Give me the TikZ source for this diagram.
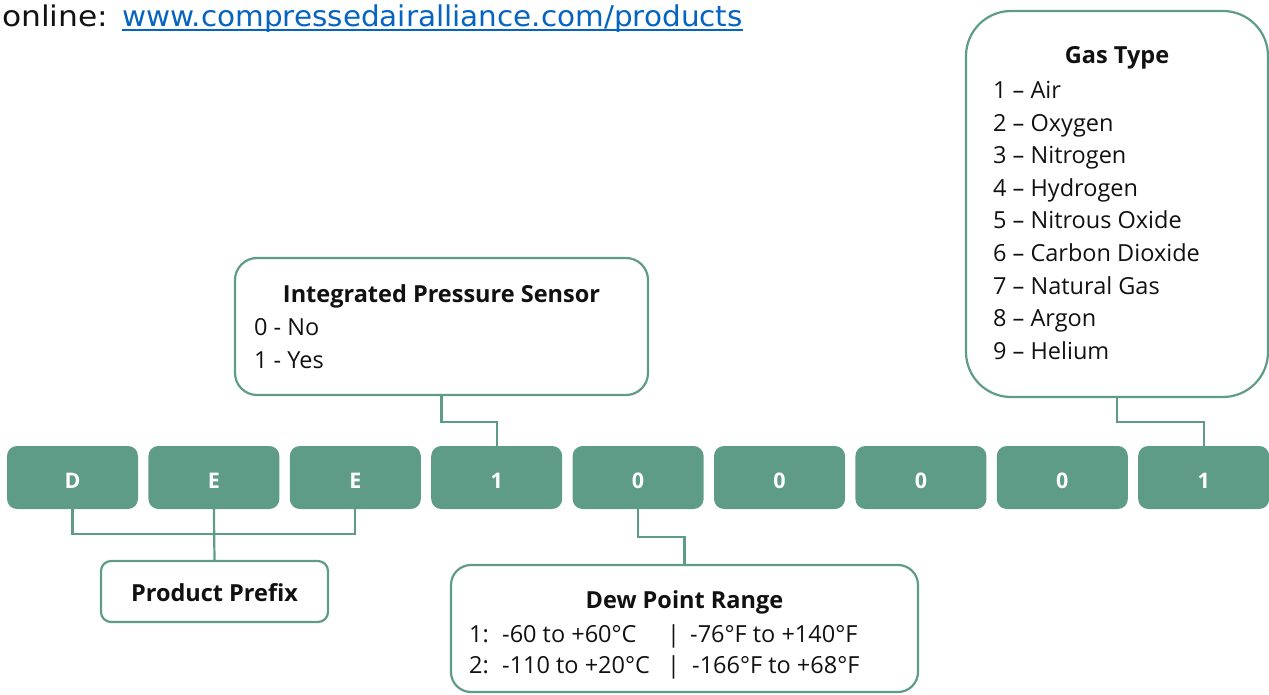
\documentclass[tikz,border=0pt]{standalone}
\usepackage{fontspec}
\setmainfont{Open Sans}
\newfontfamily\topfont[FakeStretch=1.03]{DejaVu Sans}
\newfontfamily\onlinefont[FakeStretch=1.1]{DejaVu Sans}
\definecolor{grn}{HTML}{5F9C88}
\definecolor{lnk}{HTML}{0563C1}
\definecolor{txt}{HTML}{111111}
\tikzset{
  code/.style={fill=grn, draw=none, rounded corners=10pt, minimum width=131pt, minimum height=63pt, inner sep=0pt},
  codetxt/.style={anchor=base, inner sep=0pt, text=white, font=\fontsize{21.5}{25}\selectfont\bfseries},
  infobox/.style={draw=grn, line width=2.2pt, fill=white, inner sep=0pt},
  conn/.style={draw=grn, line width=2.2pt},
  lbl/.style={anchor=base west, inner sep=0pt, text=txt, font=\fontsize{23.5}{28}\selectfont},
  ttl/.style={anchor=base, inner sep=0pt, text=txt, font=\fontsize{23.5}{28}\selectfont\bfseries},
}
\begin{document}
\begin{tikzpicture}[x=1pt,y=-1pt]
\useasboundingbox (0,0) rectangle (1269,695);
% top text
\node[anchor=base west, inner sep=0pt, text=txt, font=\onlinefont\fontsize{28.5}{32}\selectfont] (online) at (2,26.5) {online:};
\node[anchor=base west, inner sep=0pt, text=lnk, font=\topfont\fontsize{28.6}{32}\selectfont] (link) at (122,26.5) {www.compressedairalliance.com/products};
\draw[lnk, line width=2pt] ([yshift=-3.5pt]link.base west) -- ([yshift=-3.5pt]link.base east);
% code boxes
\foreach \i/\t in {1/D,2/E,3/E,4/1,5/0,6/0,7/0,8/0,9/1}{
  \node[code] (c\i) at ({72.5+141.4*(\i-1)},477.5) {};
  \node[codetxt] (t\i) at ({72.5+141.4*(\i-1)},488) {\t};
}
% info boxes
\node[infobox, rounded corners=10pt, minimum width=227pt, minimum height=61pt] (pp) at (214.5,591.5) {};
\node[ttl] (ppt) at (214.5,601) {Product Prefix};

\node[infobox, rounded corners=22pt, minimum width=413pt, minimum height=137pt] (ips) at (441.5,326.5) {};
\node[ttl] (ipst) at (441.5,302) {Integrated Pressure Sensor};
\node[lbl] (ips0) at (254,335) {0 - No};
\node[lbl] (ips1) at (254,368) {1 - Yes};

\node[infobox, rounded corners=45pt, minimum width=302pt, minimum height=386pt] (gas) at (1117,204) {};
\node[ttl] (gast) at (1117,64) {Gas Type};
\foreach \k/\s in {1/Air,2/Oxygen,3/Nitrogen,4/Hydrogen,5/Nitrous Oxide,6/Carbon Dioxide,7/Natural Gas,8/Argon,9/Helium}{
  \node[lbl] (g\k) at (993,{99+32.5*(\k-1)}) {\k\ – \s};
}

\node[infobox, rounded corners=20pt, minimum width=467pt, minimum height=127pt] (dew) at (684.5,628.5) {};
\node[ttl] (dewt) at (684.5,608) {Dew Point Range};
\node[lbl] (d1a) at (469,642) {1:};
\node[lbl] (d1b) at (502,642) {-60 to +60°C};
\node[lbl] (d1c) at (667,642) {|};
\node[lbl] (d1d) at (690,642) {-76°F to +140°F};
\node[lbl] (d2a) at (469,673) {2:};
\node[lbl] (d2b) at (502,673) {-110 to +20°C};
\node[lbl] (d2c) at (667,673) {|};
\node[lbl] (d2d) at (692,673) {-166°F to +68°F};

% connectors
\draw[conn] (c1.south) -- ++(0,25) -| (c3.south);
\draw[conn] (c2.south) -- (pp.north);
\draw[conn] (ips.south) -- ++(0,26) -| (c4.north);
\draw[conn] (gas.south) -- ++(0,24) -| (c9.north);
\draw[conn] (c5.south) -- ++(0,28) -| (dew.north);
\end{tikzpicture}
\end{document}
